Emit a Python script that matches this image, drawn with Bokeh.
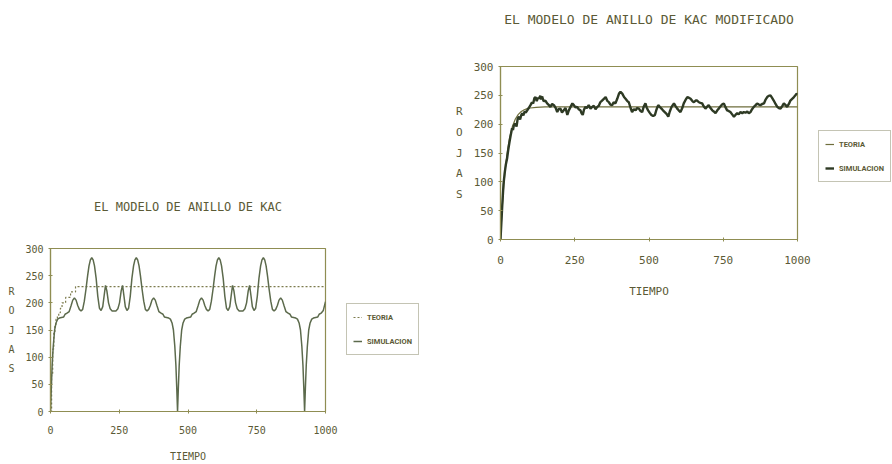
from bokeh.plotting import figure
from bokeh.layouts import row
from bokeh.models import Legend, LegendItem, FixedTicker, Range1d
from bokeh.embed import file_html
from bokeh.resources import INLINE

# ---------------- data ----------------
TITLE_LEFT = "EL MODELO DE ANILLO DE KAC"
TITLE_RIGHT = "EL MODELO DE ANILLO DE KAC MODIFICADO"
X_LABEL = "TIEMPO"
Y_LABEL = "R\nO\nJ\nA\nS"
LEGEND_LABELS = ["TEORIA", "SIMULACION"]
X_TICKS = [0, 250, 500, 750, 1000]
Y_TICKS = [0, 50, 100, 150, 200, 250, 300]

# left chart: theory (staircase) and simulation (Kac ring)
teoria_kac_t = [0, 4, 8, 12, 16, 20, 25, 30, 36, 42, 55, 73, 91, 1000]
teoria_kac_v = [0, 70, 115, 145, 160, 170, 176, 182, 190, 200, 210, 220, 230, 230]

sim_kac = [
    (0, 0), (3, 45), (6, 85), (10, 120), (15, 150), (20, 163), (26, 170), (32, 172), (40, 173), (48, 174),
    (53, 179), (60, 181), (68, 184), (75, 195), (81, 205), (87, 209), (93, 205), (99, 195), (105, 188), (111, 185),
    (117, 188), (123, 203), (129, 225), (135, 250), (140, 268), (145, 279), (150, 283), (155, 279), (160, 268), (166, 245),
    (172, 212), (178, 190), (184, 186), (190, 193), (195, 213), (200, 232), (205, 222), (211, 200), (217, 189), (224, 185),
    (231, 185), (238, 185), (245, 189), (251, 200), (257, 222), (262, 232), (267, 213), (272, 193), (278, 186), (284, 190),
    (290, 212), (296, 245), (302, 268), (307, 279), (312, 283), (317, 279), (322, 268), (327, 250), (333, 225), (339, 203),
    (345, 188), (351, 185), (357, 188), (363, 195), (369, 205), (375, 209), (381, 205), (387, 195), (394, 184), (402, 181),
    (409, 179), (414, 174), (422, 173), (430, 172), (436, 170), (442, 163), (447, 150), (452, 120), (456, 85), (459, 45),
    (462, 0), (465, 45), (468, 85), (472, 120), (477, 150), (482, 163), (488, 170), (494, 172), (502, 173), (510, 174),
    (515, 179), (522, 181), (530, 184), (537, 195), (543, 205), (549, 209), (555, 205), (561, 195), (567, 188), (573, 185),
    (579, 188), (585, 203), (591, 225), (597, 250), (602, 268), (607, 279), (612, 283), (617, 279), (622, 268), (628, 245),
    (634, 212), (640, 190), (646, 186), (652, 193), (657, 213), (662, 232), (667, 222), (673, 200), (679, 189), (686, 185),
    (693, 185), (700, 185), (707, 189), (713, 200), (719, 222), (724, 232), (729, 213), (734, 193), (740, 186), (746, 190),
    (752, 212), (758, 245), (764, 268), (769, 279), (774, 283), (779, 279), (784, 268), (789, 250), (795, 225), (801, 203),
    (807, 188), (813, 185), (819, 188), (825, 195), (831, 205), (837, 209), (843, 205), (849, 195), (856, 184), (864, 181),
    (871, 179), (876, 174), (884, 173), (892, 172), (898, 170), (904, 163), (909, 150), (914, 120), (918, 85), (921, 45),
    (924, 0), (927, 45), (930, 85), (934, 120), (939, 150), (944, 163), (950, 170), (956, 172), (964, 173), (972, 174),
    (977, 179), (984, 181), (992, 186), (1000, 202),
]

# right chart: theory (smooth approach) and simulation (noisy)
teoria_mod_t = [0, 5, 10, 15, 20, 25, 30, 40, 50, 60, 70, 80, 90, 100, 120, 150, 1000]
teoria_mod_v = [0, 49, 87, 117, 141, 160, 175, 196, 209, 217, 222, 225, 227, 228, 229, 230, 230]

sim_mod = [
    (0, 0), (3, 30), (6, 60), (10, 95), (14, 115), (18, 130), (22, 140), (26, 155), (30, 168), (34, 180),
    (39, 193), (42, 190), (45, 198), (50, 201), (54, 196), (58, 210), (62, 213), (66, 208), (70, 216), (73, 219),
    (77, 215), (81, 222), (85, 220), (90, 224), (95, 228), (101, 233), (106, 238), (110, 236), (114, 245), (118, 247),
    (122, 240), (126, 246), (129, 244), (134, 249), (137, 243), (140, 248), (145, 240), (151, 241), (157, 236), (163, 233),
    (168, 230), (174, 235), (180, 233), (186, 228), (191, 221), (196, 226), (202, 227), (207, 220), (213, 224), (219, 228),
    (225, 216), (230, 224), (236, 230), (242, 236), (247, 233), (253, 229), (258, 230), (263, 226), (269, 224), (273, 219),
    (277, 216), (281, 225), (286, 230), (291, 228), (297, 233), (303, 227), (309, 230), (314, 232), (320, 226), (326, 230),
    (331, 232), (336, 238), (342, 241), (348, 244), (354, 247), (359, 241), (365, 238), (370, 234), (376, 233), (381, 238),
    (387, 236), (393, 244), (399, 253), (404, 256), (410, 253), (416, 247), (421, 244), (427, 240), (432, 238), (438, 228),
    (443, 221), (449, 226), (455, 224), (460, 228), (466, 227), (471, 223), (477, 221), (482, 230), (488, 236), (492, 229),
    (497, 224), (502, 220), (508, 216), (514, 214), (520, 216), (525, 225), (531, 233), (536, 230), (542, 227), (547, 224),
    (553, 221), (559, 218), (565, 213), (570, 222), (576, 230), (580, 233), (584, 236), (590, 231), (595, 227), (600, 224),
    (606, 221), (612, 228), (617, 236), (623, 242), (629, 247), (634, 246), (640, 244), (646, 240), (651, 238), (657, 241),
    (662, 241), (668, 238), (673, 237), (679, 236), (684, 231), (690, 227), (695, 230), (701, 233), (707, 228), (713, 224),
    (718, 222), (724, 219), (730, 224), (735, 227), (741, 231), (746, 234), (752, 236), (757, 230), (763, 224), (768, 223),
    (774, 221), (780, 217), (786, 213), (791, 216), (797, 219), (802, 217), (808, 221), (814, 219), (819, 221), (825, 220),
    (831, 222), (836, 219), (842, 221), (847, 226), (853, 230), (859, 233), (864, 236), (870, 234), (875, 233), (881, 235),
    (887, 236), (892, 242), (898, 247), (903, 249), (909, 250), (914, 246), (920, 241), (926, 235), (932, 230), (937, 228),
    (943, 227), (948, 231), (954, 236), (960, 233), (965, 230), (971, 235), (976, 241), (982, 244), (988, 247), (993, 250),
    (997, 253), (1000, 251),
]

# ---------------- style ----------------
TEXT = "#5b5a36"
AXIS = "#8f8d52"
MONO = "DejaVu Sans Mono"
LEG_FONT = "Roboto"

TEO_L = dict(line_color="#7d7c4e", line_width=1.2, line_dash="2 2")
SIM_L = dict(line_color="#5c6a4c", line_width=1.5)
TEO_R = dict(line_color="#6f6e3c", line_width=1.2)
SIM_R = dict(line_color="#2e3a24", line_width=2.4)


def base_figure(w, h, bl, br, bt, bb, fs, lab_standoff, axlab_standoff,
                title, title_fs, title_standoff, ylab_lh):
    p = figure(width=w, height=h, output_backend="svg", toolbar_location=None,
               x_range=Range1d(0, 1000), y_range=Range1d(0, 300), frame_align=False,
               min_border_left=bl, min_border_right=br, min_border_top=bt, min_border_bottom=bb)
    p.background_fill_color = "white"
    p.border_fill_color = "white"
    p.outline_line_color = AXIS
    p.outline_line_width = 1.2
    p.xgrid.visible = False
    p.ygrid.visible = False
    p.title.text = title
    p.title.align = "center"
    p.title.text_font = MONO
    p.title.text_font_size = f"{title_fs}px"
    p.title.text_font_style = "normal"
    p.title.text_color = TEXT
    p.title.text_line_height = 1.2
    p.title.standoff = title_standoff
    p.xaxis.ticker = FixedTicker(ticks=X_TICKS)
    p.yaxis.ticker = FixedTicker(ticks=Y_TICKS)
    for ax in (p.xaxis[0], p.yaxis[0]):
        ax.axis_line_color = AXIS
        ax.axis_line_width = 1.2
        ax.major_tick_line_color = AXIS
        ax.major_tick_in = 2
        ax.major_tick_out = 2
        ax.minor_tick_line_color = None
        ax.major_label_text_font = MONO
        ax.major_label_text_font_size = f"{fs}px"
        ax.major_label_text_color = TEXT
        ax.axis_label_text_font = MONO
        ax.axis_label_text_font_size = f"{fs}px"
        ax.axis_label_text_font_style = "normal"
        ax.axis_label_text_color = TEXT
    p.xaxis.major_label_standoff = lab_standoff
    p.yaxis.major_label_standoff = 5
    p.xaxis.axis_label = X_LABEL
    p.xaxis.axis_label_standoff = axlab_standoff
    p.yaxis.axis_label = Y_LABEL
    p.yaxis.axis_label_orientation = "horizontal"
    p.yaxis.axis_label_standoff = 8
    p.yaxis.axis_label_text_line_height = ylab_lh
    return p


def legend_figure(w, h, teo, sim, teo_style, sim_style, loc):
    # ranges kept away from the data: the lines only feed the legend glyphs
    q = figure(width=w, height=h, output_backend="svg", toolbar_location=None,
               x_axis_type=None, y_axis_type=None, frame_align=False,
               x_range=Range1d(-3000, -2000), y_range=Range1d(-3000, -2000),
               min_border_left=0, min_border_right=0, min_border_top=0, min_border_bottom=0)
    q.outline_line_color = None
    q.background_fill_color = "white"
    q.border_fill_color = "white"
    q.grid.visible = False
    r_teo = q.line(teo[0], teo[1], **teo_style)
    r_sim = q.line(sim[0], sim[1], **sim_style)
    leg = Legend(items=[LegendItem(label=LEGEND_LABELS[0], renderers=[r_teo]),
                        LegendItem(label=LEGEND_LABELS[1], renderers=[r_sim])],
                 location=loc, margin=0, padding=6, spacing=10,
                 glyph_width=9, glyph_height=14, label_height=14, label_standoff=5,
                 label_text_font=LEG_FONT, label_text_font_size="7.5px", label_text_font_style="bold",
                 label_text_color=TEXT, border_line_color="#8a8a6a", border_line_width=1.2,
                 background_fill_color="white", background_fill_alpha=1.0)
    q.add_layout(leg)
    return q


sim_kac_t = [a for a, b in sim_kac]
sim_kac_v = [b for a, b in sim_kac]
sim_mod_t = [a for a, b in sim_mod]
sim_mod_v = [b for a, b in sim_mod]

# ---------------- left chart ----------------
left = base_figure(340, 464, 50, 15, 248, 51, 10, 12, 14, TITLE_LEFT, 12, 69, 1.73)
left.step(teoria_kac_t, teoria_kac_v, mode="after", **TEO_L)
left.line(sim_kac_t, sim_kac_v, **SIM_L)
left_leg = legend_figure(112, 464, (teoria_kac_t, teoria_kac_v), (sim_kac_t, sim_kac_v),
                         TEO_L, SIM_L, (6, 109))

# ---------------- right chart ----------------
right = base_figure(360, 300, 48, 15, 66, 59, 11, 14, 18, TITLE_RIGHT + "\n\n", 13, 8, 1.6)
right.line(teoria_mod_t, teoria_mod_v, **TEO_R)
right.line(sim_mod_t, sim_mod_v, **SIM_R)
right_leg = legend_figure(80, 300, (teoria_mod_t, teoria_mod_v), (sim_mod_t, sim_mod_v),
                          TEO_R, SIM_R, (6, 118))

layout = row(left, left_leg, right, right_leg)
open("out.html", "w").write(file_html(layout, INLINE))
